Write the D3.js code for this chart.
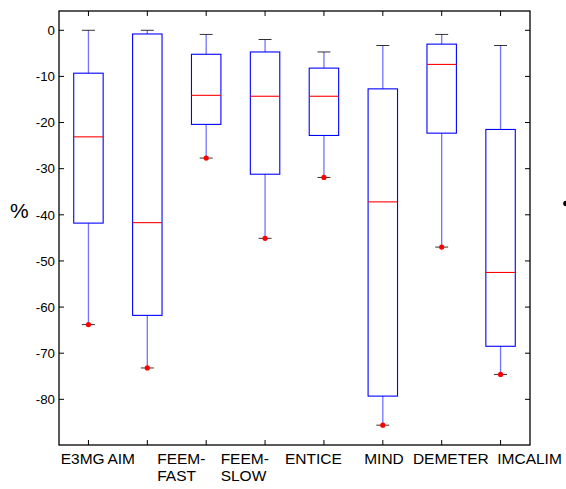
<!DOCTYPE html>
<html>
<head>
<meta charset="utf-8">
<script src="https://cdn.jsdelivr.net/npm/d3@7"></script>
<style>
  body { margin: 0; background: #fff; }
  svg { display: block; font-family: Arial, "Liberation Sans", sans-serif; }
</style>
</head>
<body>
<svg id="chart" width="566" height="489"></svg>
<script>
// ---- data ----
const categories = ["E3MG", "AIM", "FEEM-FAST", "FEEM-SLOW", "ENTICE", "MIND", "DEMETER", "IMCALIM"];
const whiskerHigh = [0, 0, -0.9, -2.0, -4.7, -3.3, -0.9, -3.3];
const upperQuartile = [-9.3, -0.8, -5.2, -4.7, -8.2, -12.7, -3.0, -21.5];
const medians = [-23.1, -41.7, -14.1, -14.3, -14.3, -37.2, -7.4, -52.5];
const lowerQuartile = [-41.8, -61.8, -20.4, -31.2, -22.8, -79.3, -22.3, -68.5];
const whiskerLow = [-63.8, -73.2, -27.7, -45.1, -31.9, -85.6, -47.0, -74.6];
const yTicks = [0, -10, -20, -30, -40, -50, -60, -70, -80];
const yLabel = "%";

// ---- layout ----
const L = 59, R = 530, T = 11, B = 445;
const svg = d3.select("#chart");
const x = d3.scaleLinear().domain([0.5, categories.length + 0.5]).range([L, R]);
const y = d3.scaleLinear().domain([-89.9, 4.18]).range([B, T]);
const boxHalf = 0.25, capHalf = 0.11, tickLen = 5;

// frame
svg.append("rect").attr("x", L).attr("y", T).attr("width", R - L).attr("height", B - T)
  .attr("fill", "none").attr("stroke", "#000").attr("stroke-width", 1.3);

// y ticks (inward both sides) + labels
const gy = svg.append("g");
yTicks.forEach(v => {
  gy.append("line").attr("x1", L).attr("x2", L + tickLen).attr("y1", y(v)).attr("y2", y(v)).attr("stroke", "#000");
  gy.append("line").attr("x1", R).attr("x2", R - tickLen).attr("y1", y(v)).attr("y2", y(v)).attr("stroke", "#000");
  gy.append("text").attr("x", L - 4).attr("y", y(v)).attr("dy", "0.36em")
    .attr("text-anchor", "end").attr("font-size", 13.3).attr("fill", "#000").text(v);
});

// x ticks (top and bottom, inward)
categories.forEach((c, i) => {
  const xv = x(i + 1);
  svg.append("line").attr("x1", xv).attr("x2", xv).attr("y1", T).attr("y2", T + tickLen).attr("stroke", "#000");
  svg.append("line").attr("x1", xv).attr("x2", xv).attr("y1", B).attr("y2", B - tickLen).attr("stroke", "#000");
});

// x labels (offset from ticks as in original)
const labelOffsets = [-27.7, -39.9, -49, -44.4, -39, -18.6, -28.8, -3.3];
categories.forEach((c, i) => {
  const parts = c.startsWith("FEEM-") ? ["FEEM-", c.slice(5)] : [c];
  const t = svg.append("text").attr("x", x(i + 1) + labelOffsets[i]).attr("y", 464)
    .attr("font-size", 15.5).attr("fill", "#000");
  parts.forEach((p, k) => {
    t.append("tspan").attr("x", x(i + 1) + labelOffsets[i]).attr("dy", k === 0 ? 0 : 17).text(p);
  });
});

// y axis label
svg.append("text").attr("x", 10).attr("y", 217.5).attr("font-size", 21).attr("fill", "#000").text(yLabel);

// boxes
const g = svg.append("g");
categories.forEach((c, i) => {
  const cx = x(i + 1);
  const bx0 = x(i + 1 - boxHalf), bx1 = x(i + 1 + boxHalf);
  const cx0 = x(i + 1 - capHalf), cx1 = x(i + 1 + capHalf);
  // whiskers
  g.append("line").attr("x1", cx).attr("x2", cx).attr("y1", y(whiskerHigh[i])).attr("y2", y(upperQuartile[i]))
    .attr("stroke", "#0000ff").attr("stroke-opacity", 0.55).attr("stroke-width", 1.3);
  g.append("line").attr("x1", cx).attr("x2", cx).attr("y1", y(lowerQuartile[i])).attr("y2", y(whiskerLow[i]))
    .attr("stroke", "#0000ff").attr("stroke-opacity", 0.55).attr("stroke-width", 1.3);
  // caps
  g.append("line").attr("x1", cx0).attr("x2", cx1).attr("y1", y(whiskerHigh[i])).attr("y2", y(whiskerHigh[i]))
    .attr("stroke", "#000").attr("stroke-opacity", 0.8);
  g.append("line").attr("x1", cx0).attr("x2", cx1).attr("y1", y(whiskerLow[i])).attr("y2", y(whiskerLow[i]))
    .attr("stroke", "#000").attr("stroke-opacity", 0.8);
  // box
  g.append("rect").attr("x", bx0).attr("y", y(upperQuartile[i]))
    .attr("width", bx1 - bx0).attr("height", y(lowerQuartile[i]) - y(upperQuartile[i]))
    .attr("fill", "none").attr("stroke", "#0000ff").attr("stroke-width", 1.1);
  // median
  g.append("line").attr("x1", bx0).attr("x2", bx1).attr("y1", y(medians[i])).attr("y2", y(medians[i]))
    .attr("stroke", "#ff0000").attr("stroke-width", 1.1);
  // low point
  g.append("circle").attr("cx", cx).attr("cy", y(whiskerLow[i])).attr("r", 2.6).attr("fill", "#ff0000");
});

// partially clipped mark at right edge
svg.append("circle").attr("cx", 566).attr("cy", 203.5).attr("r", 2.8).attr("fill", "#000");
</script>
</body>
</html>
